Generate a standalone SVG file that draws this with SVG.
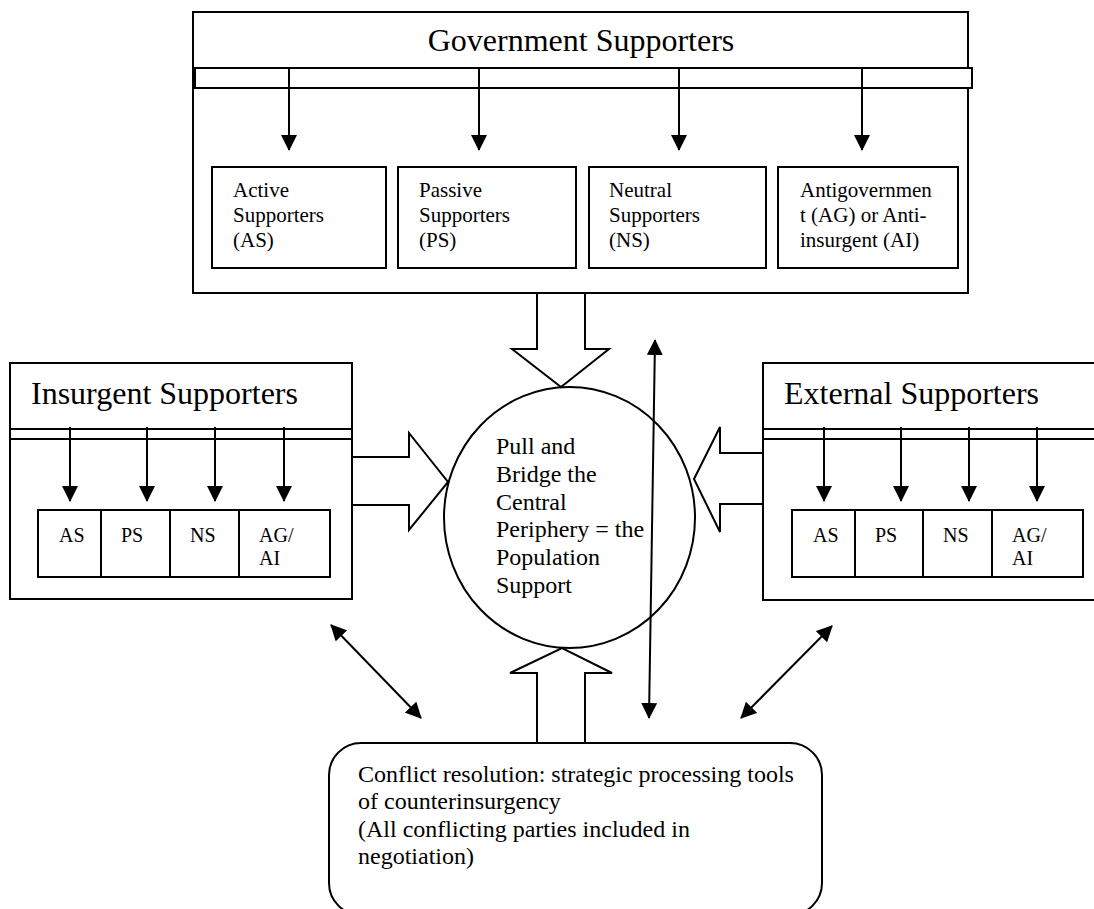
<svg xmlns="http://www.w3.org/2000/svg" width="1094" height="909" viewBox="0 0 1094 909">
<style>
text { font-family: "Liberation Serif", "Times New Roman", serif; fill: #000; }
.box { fill: #fff; stroke: #000; stroke-width: 2; }
.bar { fill: #fff; stroke: #000; stroke-width: 2; }
.ln { stroke: #000; stroke-width: 2; fill: none; }
.arr { stroke: #000; stroke-width: 2; fill: none; marker-end: url(#ah); }
.dbl { stroke: #000; stroke-width: 2; fill: none; marker-start: url(#ah); marker-end: url(#ah); }
.blk { fill: #fff; stroke: #000; stroke-width: 2; stroke-linejoin: miter; }
.title { font-size: 32px; }
.sub { font-size: 21px; }
.abbr { font-size: 20px; }
.body { font-size: 24px; }
</style>
<defs>
<marker id="ah" markerUnits="userSpaceOnUse" markerWidth="16" markerHeight="16" refX="15" refY="8" orient="auto-start-reverse">
<path d="M0,0 L16,8 L0,16 z" fill="#000"/>
</marker>
</defs>
<rect width="1094" height="909" fill="#fff"/>

<g id="government">
<rect class="box" x="193" y="12" width="775" height="281"/>
<text class="title" x="581" y="51" text-anchor="middle">Government Supporters</text>
<rect class="bar" x="195" y="68" width="777" height="20"/>
<line class="arr" x1="289" y1="68" x2="289" y2="150"/>
<line class="arr" x1="479" y1="68" x2="479" y2="150"/>
<line class="arr" x1="679" y1="68" x2="679" y2="150"/>
<line class="arr" x1="862" y1="68" x2="862" y2="150"/>
<g id="gov-as">
<rect class="box" x="212" y="167" width="174" height="101"/>
<text class="sub" x="233" y="197">Active</text>
<text class="sub" x="233" y="222">Supporters</text>
<text class="sub" x="233" y="247">(AS)</text>
</g>
<g id="gov-ps">
<rect class="box" x="398" y="167" width="178" height="101"/>
<text class="sub" x="419" y="197">Passive</text>
<text class="sub" x="419" y="222">Supporters</text>
<text class="sub" x="419" y="247">(PS)</text>
</g>
<g id="gov-ns">
<rect class="box" x="589" y="167" width="177" height="101"/>
<text class="sub" x="609" y="197">Neutral</text>
<text class="sub" x="609" y="222">Supporters</text>
<text class="sub" x="609" y="247">(NS)</text>
</g>
<g id="gov-ag">
<rect class="box" x="778" y="167" width="180" height="101"/>
<text class="sub" x="800" y="197">Antigovernmen</text>
<text class="sub" x="800" y="222">t (AG) or Anti-</text>
<text class="sub" x="800" y="247">insurgent (AI)</text>
</g>
</g>

<g id="insurgent">
<rect class="box" x="10" y="363" width="342" height="236"/>
<text class="title" x="31" y="404">Insurgent Supporters</text>
<rect class="bar" x="10" y="429" width="342" height="10"/>
<line class="arr" x1="70" y1="427" x2="70" y2="501"/>
<line class="arr" x1="147" y1="427" x2="147" y2="501"/>
<line class="arr" x1="215" y1="427" x2="215" y2="501"/>
<line class="arr" x1="284" y1="427" x2="284" y2="501"/>
<rect class="box" x="38" y="510" width="63" height="67"/>
<rect class="box" x="101" y="510" width="69" height="67"/>
<rect class="box" x="170" y="510" width="69" height="67"/>
<rect class="box" x="239" y="510" width="91" height="67"/>
<text class="abbr" x="59" y="542">AS</text>
<text class="abbr" x="121" y="542">PS</text>
<text class="abbr" x="190" y="542">NS</text>
<text class="abbr" x="259" y="542">AG/</text>
<text class="abbr" x="259" y="565">AI</text>
</g>

<g id="external">
<rect class="box" x="763" y="363" width="340" height="237"/>
<text class="title" x="784" y="404">External Supporters</text>
<rect class="bar" x="763" y="429" width="340" height="10"/>
<line class="arr" x1="824" y1="427" x2="824" y2="501"/>
<line class="arr" x1="901" y1="427" x2="901" y2="501"/>
<line class="arr" x1="969" y1="427" x2="969" y2="501"/>
<line class="arr" x1="1037" y1="427" x2="1037" y2="501"/>
<rect class="box" x="792" y="510" width="63" height="67"/>
<rect class="box" x="855" y="510" width="68" height="67"/>
<rect class="box" x="923" y="510" width="69" height="67"/>
<rect class="box" x="992" y="510" width="91" height="67"/>
<text class="abbr" x="813" y="542">AS</text>
<text class="abbr" x="875" y="542">PS</text>
<text class="abbr" x="943" y="542">NS</text>
<text class="abbr" x="1012" y="542">AG/</text>
<text class="abbr" x="1012" y="565">AI</text>
</g>

<g id="population">
<ellipse cx="569.5" cy="517.5" rx="125.5" ry="130.5" fill="none" stroke="#000" stroke-width="2"/>
<text class="body" x="496" y="454">Pull and</text>
<text class="body" x="496" y="482">Bridge the</text>
<text class="body" x="496" y="510">Central</text>
<text class="body" x="496" y="537">Periphery = the</text>
<text class="body" x="496" y="565">Population</text>
<text class="body" x="496" y="593">Support</text>
</g>

<g id="resolution">
<rect class="box" x="329" y="743" width="493" height="172" rx="32" ry="32"/>
<text class="body" x="358" y="782">Conflict resolution: strategic processing tools</text>
<text class="body" x="358" y="809">of counterinsurgency</text>
<text class="body" x="358" y="837">(All conflicting parties included in</text>
<text class="body" x="358" y="864">negotiation)</text>
</g>

<g id="connectors">
<polyline class="blk" points="537,294 537,349 512,349 561,387 609,349 585,349 585,294"/>
<polyline class="blk" points="537,742 537,673 510,673 562,648 612,673 585,673 585,742"/>
<polyline class="blk" points="353,457 409,457 409,433 448,482 409,530 409,505 353,505"/>
<polyline class="blk" points="762,453 720,453 720,427 694,479 720,532 720,504 762,504"/>
<line class="dbl" x1="655" y1="340" x2="649" y2="718"/>
<line class="dbl" x1="331" y1="625" x2="421" y2="718"/>
<line class="dbl" x1="832" y1="626" x2="741" y2="718"/>
</g>
</svg>
